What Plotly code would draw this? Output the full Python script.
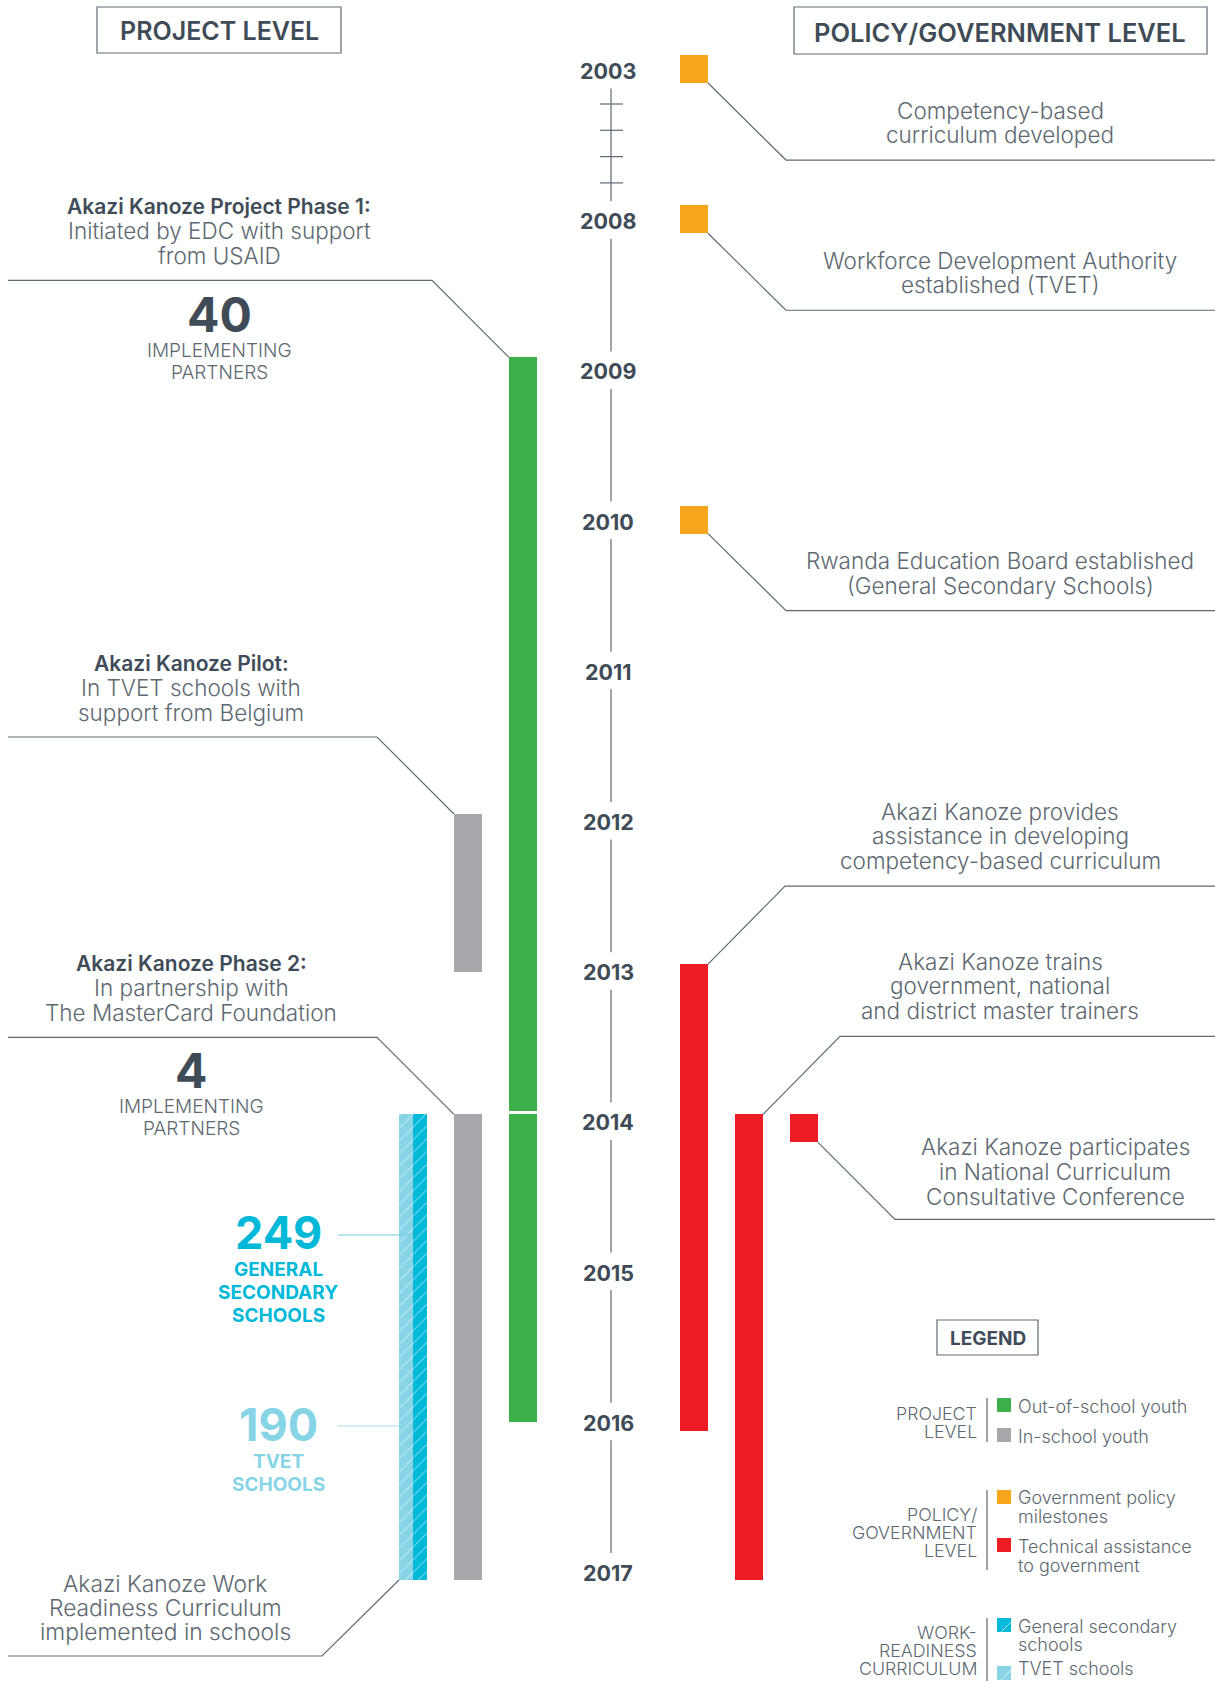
import plotly.graph_objects as go

W, H = 1215, 1681

# ---------------- data ----------------
years = [2003, 2008, 2009, 2010, 2011, 2012, 2013, 2014, 2015, 2016, 2017]

# project level (start, end) in years
out_of_school = [(2008.96, 2013.975), (2014.0, 2016.05)]      # green
in_school = [(2012.0, 2013.05), (2014.0, 2017.1)]             # gray
general_secondary = [(2014.0, 2017.1)]                       # dark cyan (hatched)
tvet_schools = [(2014.0, 2017.1)]                            # light cyan (hatched)

# policy / government level
policy_milestones = [2003, 2008, 2010]                        # orange squares
technical_assistance = [(2013.0, 2016.11), (2014.0, 2017.1)]  # red bars
ta_events = [2014]                                            # red square

policy_texts = [
    ["Competency-based", "curriculum developed"],
    ["Workforce Development Authority", "established (TVET)"],
    ["Rwanda Education Board established", "(General Secondary Schools)"],
]
ta_texts = [
    ["Akazi Kanoze provides", "assistance in developing", "competency-based curriculum"],
    ["Akazi Kanoze trains", "government, national", "and district master trainers"],
]
ta_event_texts = [["Akazi Kanoze participates", "in National Curriculum", "Consultative Conference"]]

phase_titles = ["Akazi Kanoze Project Phase 1:", "Akazi Kanoze Pilot:", "Akazi Kanoze Phase 2:"]
phase_subs = [["Initiated by EDC with support", "from USAID"],
              ["In TVET schools with", "support from Belgium"],
              ["In partnership with", "The MasterCard Foundation"]]
partners = ["40", "4"]
schools_general = "249"
schools_tvet = "190"
wr_text = ["Akazi Kanoze Work", "Readiness Curriculum", "implemented in schools"]

legend_groups = [["PROJECT", "LEVEL"], ["POLICY/", "GOVERNMENT", "LEVEL"],
                 ["WORK-", "READINESS", "CURRICULUM"]]
legend_items = [["Out-of-school youth"], ["In-school youth"],
                ["Government policy", "milestones"], ["Technical assistance", "to government"],
                ["General secondary", "schools"], ["TVET schools"]]

# ---------------- style ----------------
GREEN = "#3db04b"
GRAY = "#a7a8ab"
ORANGE = "#f7a51d"
RED = "#ed1c24"
CYAN = "#00b9d9"
LCYAN = "#88d4e7"
DARK = "#3f4c57"
MID = "#5d6870"
LINE = "#5f6a72"
FONT = "Inter"

PX0, UNIT = 63.0, 150.2           # pixel of timeline position 0, pixels per position
SQ = 28.0 / UNIT                  # square marker height in timeline units
SQ_LEAD = 0.053                   # milestone squares sit centred on the year label


def pos(y):
    if y < 2008:
        return (y - 2003) / 5.0
    return y - 2007.0


def ypx(p):
    return PX0 + UNIT * p


fig = go.Figure()


def add_bars(bases, lengths, xs, w, color, pattern=None):
    marker = dict(color=color, line=dict(width=0))
    if pattern:
        marker["pattern"] = pattern
    fig.add_trace(go.Bar(
        x=xs, base=bases, y=lengths, width=[w] * len(bases),
        marker=marker, hoverinfo="skip", showlegend=False))


def add_spans(spans, xs, w, color, pattern=None):
    add_bars([pos(a) for a, b in spans], [pos(b) - pos(a) for a, b in spans],
             xs, w, color, pattern)


hatch = dict(shape="/", fgcolor="white", fgopacity=0.45, size=9, solidity=0.12)
add_spans(out_of_school, [523] * len(out_of_school), 28, GREEN)
add_spans(in_school, [468] * len(in_school), 28, GRAY)
add_spans(tvet_schools, [406], 14, LCYAN, hatch)
add_spans(general_secondary, [420], 14, CYAN, hatch)
add_spans(technical_assistance, [694, 749], 28, RED)
add_bars([pos(y) - SQ_LEAD for y in policy_milestones], [SQ] * len(policy_milestones),
         [694] * len(policy_milestones), 28, ORANGE)
add_bars([pos(y) for y in ta_events], [SQ] * len(ta_events),
         [804] * len(ta_events), 28, RED)

shapes = []
anns = []


def line_path(pts, color=LINE, width=1.2):
    d = "M " + " L ".join(f"{x},{y}" for x, y in pts)
    shapes.append(dict(type="path", path=d, xref="x", yref="y2",
                       line=dict(color=color, width=width)))


def text(t, x, y, size, color=MID, weight=300, xanchor="center"):
    anns.append(dict(text=t, x=x, y=y, xref="x", yref="y2", showarrow=False,
                     xanchor=xanchor, yanchor="middle", borderpad=0,
                     font=dict(family=FONT, size=size, color=color, weight=weight)))


# ---- header boxes ----
shapes.append(dict(type="rect", xref="x", yref="y2", x0=97, x1=341, y0=7, y1=53,
                   line=dict(color=LINE, width=1.2)))
text("PROJECT LEVEL", 219, 31, 25, DARK, 600)
shapes.append(dict(type="rect", xref="x", yref="y2", x0=794, x1=1207, y0=7, y1=54,
                   line=dict(color=LINE, width=1.2)))
text("POLICY/GOVERNMENT LEVEL", 1000, 32, 25.5, DARK, 600)

# ---- timeline ----
label_px = [ypx(pos(y)) + 8 for y in years]
for i, y in enumerate(years):
    text(str(y), 608, label_px[i], 21.5, DARK, 700)
for i in range(len(years) - 1):
    line_path([(611, label_px[i] + 17.5), (611, label_px[i + 1] - 20)], width=1.2)
seg0 = label_px[0] + 17.5
for k in range(4):
    ty = seg0 + 15.5 + k * 26.3
    line_path([(600, ty), (623, ty)], width=1.2)

# ---- policy callouts ----
RSZ = 22.5
for y, lines in zip(policy_milestones, policy_texts):
    yb = ypx(pos(y) - SQ_LEAD + SQ)
    line_path([(708, yb), (786, yb + 77), (1215, yb + 77)])
    ytxt = yb + 77 - 50
    for j, s in enumerate(lines):
        text(s, 1000, ytxt + j * 24.5, RSZ)

for (a, b), xr, lines in zip(technical_assistance, [708, 763], ta_texts):
    yt = ypx(pos(a))
    line_path([(xr, yt), (xr + 77, yt - 78), (1215, yt - 78)])
    for j, s in enumerate(lines):
        text(s, 1000, yt - 78 - 75 + j * 24.5, RSZ)

for y, lines in zip(ta_events, ta_event_texts):
    yb = ypx(pos(y) + SQ)
    line_path([(818, yb), (895, yb + 77), (1215, yb + 77)])
    for j, s in enumerate(lines):
        text(s, 1055, yb + 4 + j * 25, RSZ)

# ---- project callouts ----
starts = [out_of_school[0], in_school[0], in_school[1]]
xl = [509, 454, 454]
for (a, b), x0, title, subs in zip(starts, xl, phase_titles, phase_subs):
    yt = ypx(pos(a))
    line_path([(x0, yt), (x0 - 77, yt - 77), (8, yt - 77)])
    cx = 219 if x0 == 509 else 191
    base = yt - 77 - 74
    text(title, cx, base, 21, DARK, 600)
    for j, s in enumerate(subs):
        text(s, cx, base + 24.5 * (j + 1), 22.5)

for p, cx, yc in zip(partners, [219, 191], [ypx(pos(out_of_school[0][0])) - 43,
                                           ypx(pos(in_school[1][0])) - 44]):
    text(p, cx, yc, 48, DARK, 700)
    text("IMPLEMENTING", cx, yc + 36, 19)
    text("PARTNERS", cx, yc + 58, 19)

# schools counts
text(schools_general, 278, 1232, 45, CYAN, 700)
for j, s in enumerate(["GENERAL", "SECONDARY", "SCHOOLS"]):
    text(s, 278, 1269 + j * 23, 19, CYAN, 700)
line_path([(338, 1235), (413, 1235)], color="#6fcbe1", width=1.2)
text(schools_tvet, 278, 1424, 45, LCYAN, 700)
for j, s in enumerate(["TVET", "SCHOOLS"]):
    text(s, 278, 1461 + j * 23, 19, LCYAN, 700)
line_path([(338, 1426), (399, 1426)], color="#a6e0ee", width=1.2)

# work readiness callout
yb = ypx(pos(tvet_schools[0][1]))
line_path([(399, yb), (322, yb + 76), (8, yb + 76)])
for j, s in enumerate(wr_text):
    text(s, 165, 1583 + j * 24, 22.8)

# ---- legend ----
shapes.append(dict(type="rect", xref="x", yref="y2", x0=937, x1=1038, y0=1320, y1=1355,
                   line=dict(color=LINE, width=1.2)))
text("LEGEND", 987.5, 1338, 19, DARK, 700)
group_y = [[1413, 1431], [1514, 1532, 1550], [1632, 1650, 1668]]
seps = [(1398, 1442), (1490, 1570), (1618, 1690)]
for labels, ys, (s0, s1) in zip(legend_groups, group_y, seps):
    for s, yy in zip(labels, ys):
        text(s, 978, yy, 17.8, MID, 300, "right")
    line_path([(987, s0), (987, s1)], width=1.2)
sw_colors = [GREEN, GRAY, ORANGE, RED, CYAN, LCYAN]
sw_top = [1398, 1428, 1490, 1538, 1618, 1666]
item_y = [[1406], [1436], [1497, 1516], [1546, 1565], [1626, 1644], [1668]]
for c, t0, lines, ys in zip(sw_colors, sw_top, legend_items, item_y):
    shapes.append(dict(type="rect", xref="x", yref="y2", x0=997, x1=1011, y0=t0, y1=t0 + 14,
                       fillcolor=c, line=dict(width=0)))
    if c in (CYAN, LCYAN):
        line_path([(1001, t0 + 14), (1011, t0 + 4)], color="rgba(255,255,255,0.6)", width=1)
    for s, yy in zip(lines, ys):
        text(s, 1017, yy, 18, MID, 300, "left")

fig.update_layout(
    width=W, height=H, margin=dict(l=0, r=0, t=0, b=0),
    paper_bgcolor="white", plot_bgcolor="white",
    barmode="overlay", bargap=0, showlegend=False,
    xaxis=dict(range=[0, W], visible=False, fixedrange=True),
    yaxis=dict(range=[(H - PX0) / UNIT, -PX0 / UNIT], visible=False, fixedrange=True),
    yaxis2=dict(range=[H, 0], visible=False, overlaying="y", fixedrange=True),
    shapes=shapes, annotations=anns,
)

fig.write_html("out.html", config={"displayModeBar": False},
               post_script="document.body.style.margin='0';")
